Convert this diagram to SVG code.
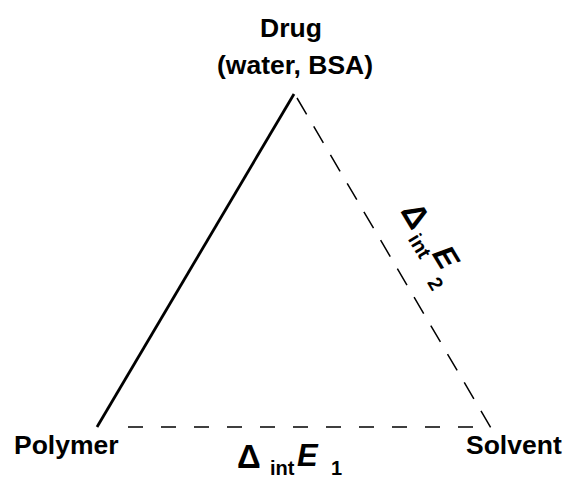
<svg xmlns="http://www.w3.org/2000/svg" width="565" height="479" viewBox="0 0 565 479">
<style>
.lbl{font-family:"Liberation Sans",Arial,sans-serif;font-weight:bold;fill:#000}
.it{font-style:italic}
.edge{stroke:#000;fill:none}
.dash{stroke-width:1.5}
</style>
<rect width="565" height="479" fill="#fff"/>
<g id="connectors">
<line class="edge" x1="97" y1="427" x2="294" y2="94" stroke-width="2.8"/>
<line class="edge dash" x1="297" y1="98" x2="491" y2="428" stroke-dasharray="19 14"/>
<line class="edge dash" x1="128" y1="427" x2="473" y2="427" stroke-dasharray="15 18"/>
</g>
<g id="drug">
<text class="lbl" x="291" y="37" font-size="26.5" text-anchor="middle">Drug</text>
<text class="lbl" x="295" y="74" font-size="26.5" text-anchor="middle">(water, BSA)</text>
</g>
<g id="polymer"><text class="lbl" x="14" y="454" font-size="26.5">Polymer</text></g>
<g id="solvent"><text class="lbl" x="466" y="454" font-size="26.5">Solvent</text></g>
<g id="e1">
<text class="lbl" x="237" y="468" font-size="33">Δ</text>
<text class="lbl" x="270" y="475" font-size="20">int</text>
<text class="lbl it" x="297" y="466" font-size="31">E</text>
<text class="lbl" x="331" y="475" font-size="20">1</text>
</g>
<g id="e2" transform="translate(400,211) rotate(59)">
<text class="lbl" x="0" y="0" font-size="33">Δ</text>
<text class="lbl" x="28" y="8" font-size="20">int</text>
<text class="lbl it" x="53" y="-5" font-size="31">E</text>
<text class="lbl" x="75" y="14" font-size="20">2</text>
</g>
</svg>
